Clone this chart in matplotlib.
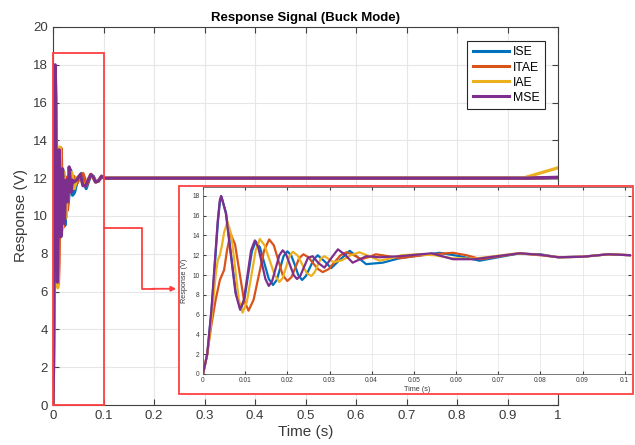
import matplotlib
matplotlib.use("Agg")
import matplotlib.pyplot as plt
from matplotlib.patches import Rectangle
from matplotlib.ticker import FixedLocator

# ---------------- data ----------------
series_names = ["ISE", "ITAE", "IAE", "MSE"]
series_colors = ["#0072BD", "#D95319", "#EDB120", "#7E2F8E"]

t_ise = [0, 0.001, 0.002, 0.003, 0.0035, 0.004, 0.0044, 0.0055, 0.0066, 0.0078, 0.0089,
         0.0098, 0.0107, 0.0116, 0.0125, 0.0135, 0.01455, 0.0156, 0.0166, 0.0175, 0.0183,
         0.0191, 0.0200, 0.0209, 0.0218, 0.0226, 0.0235, 0.0244, 0.0254, 0.0263, 0.0272,
         0.0288, 0.0304, 0.0326, 0.0348, 0.0387, 0.0426, 0.0466, 0.0515, 0.0561, 0.0610,
         0.0656, 0.0700, 0.0745, 0.0800, 0.0842, 0.0900, 0.0961, 0.1017]
v_ise = [0, 2.0, 6.3, 12.2, 15.2, 17.4, 17.9, 16.2, 12.2, 8.2, 6.5,
         7.5, 10.0, 12.4, 13.4, 12.8, 11.2, 9.6, 9.0, 9.5, 10.7,
         11.9, 12.4, 12.0, 11.0, 10.0, 9.5, 9.9, 10.8, 11.6, 12.0,
         11.4, 10.7, 11.6, 12.45, 11.1, 11.25, 11.7, 12.0, 12.25, 11.9,
         11.45, 11.8, 12.15, 12.1, 11.8, 11.85, 12.1, 12.0]

t_itae = [0, 0.001, 0.002, 0.003, 0.004, 0.005, 0.0057, 0.0065, 0.0076, 0.00865, 0.0097,
          0.0108, 0.0120, 0.01325, 0.0145, 0.0157, 0.0168, 0.01785, 0.0189, 0.0200, 0.0210,
          0.0219, 0.0228, 0.0238, 0.0250, 0.0261, 0.0273, 0.0284, 0.0298, 0.0312, 0.0326,
          0.0340, 0.0358, 0.0375, 0.0392, 0.0410, 0.0440, 0.0466, 0.0520, 0.0560, 0.0593,
          0.0625, 0.0660, 0.0705, 0.0750, 0.0800, 0.0845, 0.0900, 0.0961, 0.1017]
v_itae = [0, 2.0, 5.0, 7.5, 9.5, 10.5, 12.5, 14.2, 13.1, 10.3, 7.5,
          6.4, 7.5, 10.0, 12.5, 13.6, 13.0, 11.5, 10.0, 9.4, 9.8,
          10.75, 11.7, 12.1, 11.8, 11.2, 10.6, 10.3, 10.6, 11.3, 12.0,
          12.3, 12.0, 11.6, 11.8, 12.1, 11.9, 11.7, 12.0, 12.15, 12.25,
          12.0, 11.6, 11.9, 12.2, 12.0, 11.8, 11.85, 12.1, 12.0]

t_iae = [0, 0.001, 0.002, 0.003, 0.0035, 0.004, 0.0045, 0.005, 0.0058, 0.0067, 0.0076,
         0.0085, 0.0094, 0.0104, 0.01145, 0.0125, 0.0135, 0.0146, 0.0158, 0.0170, 0.0181,
         0.0189, 0.0197, 0.0205, 0.0213, 0.0224, 0.0235, 0.0246, 0.0257, 0.0265, 0.0272,
         0.0280, 0.0288, 0.0310, 0.0330, 0.0350, 0.0371, 0.0395, 0.0419, 0.0445, 0.0470,
         0.0510, 0.0550, 0.0590, 0.0640, 0.0690, 0.0745, 0.0800, 0.0845, 0.0900, 0.0961,
         0.1017]
v_iae = [0, 2.0, 5.5, 10.0, 11.5, 12.0, 13.0, 14.3, 15.4, 14.1, 10.8,
         7.5, 6.2, 7.3, 9.9, 12.5, 13.65, 13.0, 11.5, 10.0, 9.3,
         9.7, 10.8, 11.9, 12.35, 12.0, 11.1, 10.2, 9.9, 10.3, 11.0,
         11.7, 11.9, 11.3, 11.5, 12.0, 12.3, 11.9, 11.45, 11.7, 12.0,
         12.1, 12.0, 11.7, 11.65, 11.9, 12.2, 12.05, 11.8, 11.85, 12.1,
         12.0]

t_mse = [0, 0.001, 0.002, 0.003, 0.0035, 0.004, 0.0043, 0.0054, 0.00655, 0.0077, 0.0088,
         0.0097, 0.01055, 0.0114, 0.0123, 0.0131, 0.01395, 0.0148, 0.0156, 0.0164, 0.01725,
         0.0181, 0.0189, 0.0197, 0.0206, 0.0215, 0.0223, 0.0231, 0.0240, 0.0249, 0.0260,
         0.0274, 0.0288, 0.0304, 0.0320, 0.0338, 0.0355, 0.0387, 0.0419, 0.0466, 0.0542,
         0.0593, 0.0644, 0.0696, 0.0751, 0.0800, 0.0842, 0.0900, 0.0961, 0.1017]
v_mse = [0, 2.0, 6.5, 12.5, 15.5, 17.6, 18.0, 16.3, 12.25, 8.2, 6.5,
         7.5, 10.0, 12.5, 13.5, 12.8, 11.2, 9.6, 8.9, 9.4, 10.7,
         12.0, 12.5, 12.1, 11.05, 10.0, 9.6, 9.95, 10.85, 11.75, 11.9,
         11.2, 10.75, 11.7, 12.6, 12.0, 11.25, 11.9, 11.8, 11.9, 12.2,
         11.6, 11.6, 11.9, 12.2, 12.05, 11.8, 11.85, 12.1, 12.0]

# long-run tail for the main plot (t > 0.1 s)
t_tail = [0.2, 0.4, 0.6, 0.8, 0.93, 1.0]
v_tail_ise = [12.0, 12.0, 12.0, 12.0, 12.0, 12.02]
v_tail_itae = [12.0, 12.0, 12.0, 12.0, 12.0, 12.03]
v_tail_iae = [12.0, 12.0, 12.0, 12.0, 12.0, 12.55]
v_tail_mse = [12.0, 12.0, 12.0, 12.0, 12.0, 12.05]

main_xticks = [0, 0.1, 0.2, 0.3, 0.4, 0.5, 0.6, 0.7, 0.8, 0.9, 1.0]
main_xlabels = ["0", "0.1", "0.2", "0.3", "0.4", "0.5", "0.6", "0.7", "0.8", "0.9", "1"]
main_yticks = [0, 2, 4, 6, 8, 10, 12, 14, 16, 18, 20]
inset_xticks = [0, 0.01, 0.02, 0.03, 0.04, 0.05, 0.06, 0.07, 0.08, 0.09, 0.1]
inset_xlabels = ["0", "0.01", "0.02", "0.03", "0.04", "0.05", "0.06", "0.07", "0.08", "0.09", "0.1"]
inset_yticks = [0, 2, 4, 6, 8, 10, 12, 14, 16, 18]

inset_t = [t_ise, t_itae, t_iae, t_mse]
inset_v = [v_ise, v_itae, v_iae, v_mse]
tails = [v_tail_ise, v_tail_itae, v_tail_iae, v_tail_mse]

# ---------------- figure ----------------
plt.rcParams['font.family'] = ['Liberation Sans', 'DejaVu Sans']
W, H = 635, 445
fig = plt.figure(figsize=(W / 100, H / 100), dpi=100)
fig.patch.set_facecolor("white")

def fx(px):
    return px / W

def fy(py):
    return 1 - py / H

TXT = "#3a3a3a"
GRID = "#e6e6e6"

ax = fig.add_axes([fx(53), fy(405), fx(558) - fx(53), fy(27) - fy(405)])
for name, col, tt, vv, tl in zip(series_names, series_colors, inset_t, inset_v, tails):
    ax.plot(list(tt) + t_tail, list(vv) + tl, color=col, lw=2.3, label=name)
ax.set_xlim(0, 1)
ax.set_ylim(0, 20)
ax.xaxis.set_major_locator(FixedLocator(main_xticks))
ax.set_xticklabels(main_xlabels)
ax.yaxis.set_major_locator(FixedLocator(main_yticks))
ax.grid(True, color=GRID, lw=0.8)
ax.tick_params(direction="in", top=True, right=True, length=4, colors="#404040",
               labelsize=9.5, labelcolor=TXT)
for s in ax.spines.values():
    s.set_color("#404040")
    s.set_linewidth(0.8)
ax.set_xlabel("Time (s)", fontsize=11, color=TXT, labelpad=2)
ax.set_ylabel("Response (V)", fontsize=11, color=TXT, labelpad=4)
ax.set_title("Response Signal (Buck Mode)", fontsize=9.5, fontweight="bold", color="black", pad=4)

leg = ax.legend(loc="upper left", bbox_to_anchor=(0.82, 0.963), borderaxespad=0, fontsize=8.8,
                handlelength=3.0, handletextpad=0.3, borderpad=0.45, labelspacing=0.25,
                fancybox=False, framealpha=1, edgecolor="#262626")
leg.get_frame().set_linewidth(0.8)
for line in leg.get_lines():
    line.set_linewidth(2.2)

RED = "#ff4040"
ax.add_patch(Rectangle((0, 0), 0.1, 18.6, fill=False, edgecolor=RED, lw=1.3, clip_on=False, zorder=5))
ax.plot([0.1, 0.176, 0.176, 0.2], [9.37, 9.37, 6.15, 6.15], color=RED, lw=1.3, zorder=5, clip_on=False)
ax.annotate("", xy=(0.2495, 6.15), xytext=(0.19, 6.15),
            arrowprops=dict(arrowstyle="-|>", color=RED, lw=1.3, mutation_scale=7), zorder=5)

# inset frame
frame = Rectangle((fx(179), fy(394)), fx(633) - fx(179), fy(186) - fy(394),
                  transform=fig.transFigure, facecolor="white", edgecolor=RED, lw=1.3, zorder=1)
fig.add_artist(frame)

axi = fig.add_axes([fx(203), fy(374), fx(631) - fx(203), fy(187) - fy(374)], zorder=2)
for name, col, tt, vv in zip(series_names, series_colors, inset_t, inset_v):
    axi.plot(tt, vv, color=col, lw=1.6)
axi.set_xlim(0, 0.1015)
axi.set_ylim(0, 18.9)
axi.xaxis.set_major_locator(FixedLocator(inset_xticks))
axi.set_xticklabels(inset_xlabels)
axi.yaxis.set_major_locator(FixedLocator(inset_yticks))
axi.grid(True, color=GRID, lw=0.6)
axi.tick_params(direction="in", top=True, right=True, length=2.5, colors="#404040",
                labelsize=4.8, labelcolor=TXT, pad=2.5)
for s in axi.spines.values():
    s.set_color("#606060")
    s.set_linewidth(0.6)
axi.spines["right"].set_visible(False)
axi.set_xlabel("Time (s)", fontsize=5.2, color=TXT, labelpad=1)
axi.set_ylabel("Response (V)", fontsize=5.2, color=TXT, labelpad=3)

fig.savefig("out.png", dpi=100, facecolor="white")
